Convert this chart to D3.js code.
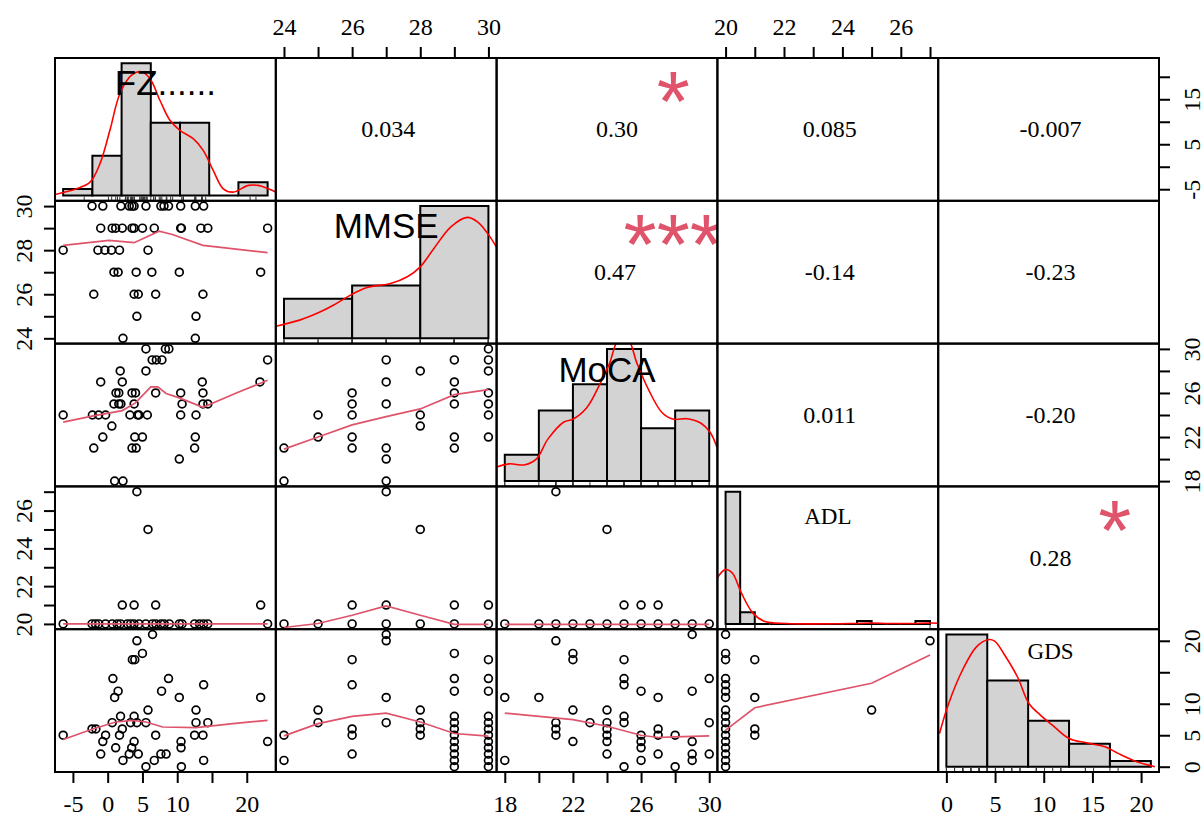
<!DOCTYPE html>
<html>
<head>
<meta charset="utf-8">
<script src="https://d3js.org/d3.v7.min.js"></script>
<style>
  body { margin: 0; background: #fff; }
  svg { display: block; }
</style>
</head>
<body>
<svg id="chart" width="1203" height="816"></svg>
<script>
// variable names and the labels on the diagonal
var vars = ["FZ", "MMSE", "MoCA", "ADL", "GDS"];
var diagLabels = ["FZ......", "MMSE", "MoCA", "ADL", "GDS"];

// axis ticks and their labels (R drops labels that would overlap)
var fzTicks = [-5, 0, 5, 10, 15, 20];
var fzBottomLabels = ["-5", "0", "5", "10", "", "20"];
var fzRightLabels = ["-5", "", "5", "", "15", ""];
var mmseTicks = [24, 25, 26, 27, 28, 29, 30];
var mmseLabels = ["24", "", "26", "", "28", "", "30"];
var mocaTicks = [18, 20, 22, 24, 26, 28, 30];
var mocaLabels = ["18", "", "22", "", "26", "", "30"];
var adlTicks = [20, 21, 22, 23, 24, 25, 26, 27];
var adlLabels = ["20", "", "22", "", "24", "", "26", ""];
var gdsTicks = [0, 5, 10, 15, 20];
var gdsBottomLabels = ["0", "5", "10", "15", "20"];
var gdsRightLabels = ["0", "5", "10", "", "20"];

// histograms: breaks and counts
var fzBreaks = [-10, -5, 0, 5, 10, 15, 20, 25];
var fzCounts = [1, 6, 20, 11, 11, 0, 2];
var mmseBreaks = [24, 26, 28, 30];
var mmseCounts = [9, 12, 30];
var mocaBreaks = [18, 20, 22, 24, 26, 28, 30];
var mocaCounts = [3, 8, 11, 15, 6, 8];
var adlBreaks = [20, 20.5, 21, 21.5, 22, 22.5, 23, 23.5, 24, 24.5, 25, 25.5, 26, 26.5, 27];
var adlCounts = [45, 4, 0, 0, 0, 0, 0, 0, 0, 1, 0, 0, 0, 1];
var gdsBreaks = [0, 5, 10, 15, 20, 25];
var gdsCounts = [23, 15, 8, 4, 1];

// kernel density curves [x, density]
var fz_dens = [[-11.4,0.0006],[-7.7,0.004],[-5.4,0.0079],[-3.7,0.0189],[-2.0,0.0387],[-0.28,0.0605],[1.7,0.0714],[3.4,0.0734],[4.85,0.0694],[6.56,0.0565],[8.27,0.0446],[9.98,0.0387],[12.26,0.0337],[13.97,0.0268],[15.68,0.0149],[17.4,0.004],[19.1,0.002],[21.7,0.006],[23.4,0.006],[25.1,0.004],[26.4,0.002]];
var mmse_dens = [[23.77,0.027],[24.48,0.041],[25.07,0.059],[25.46,0.074],[25.95,0.096],[26.44,0.113],[27.13,0.122],[27.62,0.137],[28.0,0.159],[28.4,0.2],[28.9,0.248],[29.38,0.269],[29.68,0.259],[29.97,0.234],[30.26,0.2]];
var moca_dens = [[17.5,0.0154],[18.25,0.0192],[19.19,0.0181],[19.86,0.0247],[20.53,0.0467],[21.47,0.0658],[22.0,0.0688],[22.81,0.0815],[23.61,0.109],[24.15,0.131],[24.69,0.158],[25.22,0.158],[25.76,0.131],[26.43,0.102],[27.24,0.076],[27.9,0.0688],[28.71,0.0694],[29.52,0.0644],[30.06,0.054],[30.46,0.0375]];
var adl_dens = [[19.71,0.613],[19.99,0.725],[20.23,0.68],[20.54,0.413],[20.93,0.147],[21.32,0.036],[22.1,0.005],[24.45,0.006],[25.0,0.012],[25.6,0.006],[26.4,0.006],[27.0,0.012],[27.3,0.008]];
var gds_dens = [[-0.84,0.0227],[0.28,0.0431],[1.96,0.0658],[3.65,0.0816],[5.05,0.0866],[5.9,0.0857],[7.02,0.0771],[8.7,0.0612],[10.1,0.0431],[11.5,0.0352],[13.2,0.0272],[15.0,0.0193],[17.1,0.0163],[19.4,0.0136],[21.0,0.0091],[23.3,0.0034],[25.5,0]];

// scatter points [x, y] of the lower panels
var fz_mmse = [[-2.25,30],[-0.7,30],[1.9,30],[3.1,30],[3.5,30],[3.8,30],[5.5,30],[7.65,30],[8.1,30],[8.75,30],[10.5,30],[12.6,30],[13.8,30],
  [-1.0,29],[0.65,29],[1.15,29],[2.1,29],[3.5,29],[3.8,29],[5.0,29],[6.7,29],[10.5,29],[10.6,29],[13.4,29],[14.4,29],[23.0,29],
  [-6.4,28],[-1.4,28],[-0.4,28],[0.55,28],[1.7,28],[5.8,28],
  [0.9,27],[1.5,27],[4.1,27],[6.35,27],[10.3,27],[22.0,27],
  [-2.0,26],[3.8,26],[4.4,26],[6.9,26],[13.7,26],
  [4.2,25],[12.7,25],[2.2,24],[12.6,24]];
var fz_moca = [[-6.4,24],[-2.2,24],[-1.3,24],[-0.3,24],[-1.0,27],[1.8,28],[2.1,27],[1.2,26],[1.6,26],[0.9,25],[1.6,25],[1.9,25],
  [0.6,23],[-0.7,22],[-2.0,21],[1.0,18],[2.2,18],[3.2,24],[4.3,24],[4.5,24],[5.7,24],[3.5,26],[4.0,26],[3.8,25],[3.9,22],
  [5.0,22],[3.5,21],[4.1,21],[5.5,30],[6.4,29],[7.0,29],[7.8,29],[8.3,30],[8.8,30],[5.5,28],[6.9,26],[10.5,26],[10.7,25],
  [10.5,24],[10.3,20],[12.7,24],[13.6,27],[13.7,26],[13.7,25],[14.4,25],[12.6,22],[12.5,21],[21.9,27],[23.0,29]];
var mmse_moca = [[24,21],[24,18],[25,24],[25,22],[26,26],[26,25],[26,24],[26,22],[26,21],[27,29],[27,27],[27,25],[27,21],
  [27,20],[27,18],[28,28],[28,24],[28,23],[29,29],[29,27],[29,26],[29,25],[29,22],[29,21],[30,30],[30,29],[30,28],[30,26],
  [30,25],[30,24],[30,22]];
var fz_adl = [[-6.4,20],[-2.25,20],[-1.76,20],[-1.28,20],[-0.31,20],[0.65,20],[1.37,20],[1.86,20],[2.82,20],[3.3,20],[3.79,20],
  [4.51,20],[5.48,20],[6.44,20],[6.93,20],[7.65,20],[8.13,20],[8.86,20],[10.3,20],[10.7,20],[12.5,20],[13.2,20],[13.8,20],
  [14.4,20],[23.0,20],[2.1,21],[3.8,21],[6.9,21],[22.0,21],[5.8,25],[4.2,27]];
var mmse_adl = [[24,20],[25,20],[26,20],[27,20],[28,20],[29,20],[30,20],[26,21],[27,21],[29,21],[30,21],[28,25],[27,27]];
var moca_adl = [[18,20],[20,20],[21,20],[22,20],[23,20],[24,20],[25,20],[26,20],[27,20],[28,20],[29,20],[30,20],
  [25,21],[26,21],[27,21],[24,25],[21,27]];
var fz_gds = [[-6.4,5],[-2.25,6],[-1.7,6],[-0.3,5],[-0.7,4],[-1.0,2],[1.15,3],[0.65,7],[1.7,5],[2.1,6],[1.85,8],[2.2,1],
  [3.1,2],[3.45,3],[3.8,4],[4.4,2],[3.3,7],[4.2,7],[5.5,7],[3.8,8],[5.8,9],[5.5,0],[6.7,1],[6.9,5],[7.65,2],[8.4,2],
  [0.75,14],[1.5,12],[1.0,11],[3.55,17],[3.9,17],[4.2,20],[5.0,18],[6.45,21],[7.75,12],[8.75,14],[10.3,11],[10.55,4],
  [10.55,3],[10.6,0],[12.7,9],[12.7,7],[14.4,7],[12.5,5],[13.7,5],[13.8,1],[13.8,13],[22.0,11],[23.0,4]];
var mmse_gds = [[24,5],[24,1],[25,9],[25,7],[26,17],[26,13],[26,6],[26,5],[26,2],[27,21],[27,20],[27,11],[27,7],
  [28,9],[28,7],[28,6],[28,5],[29,18],[29,14],[29,12],[29,8],[29,7],[29,6],[29,5],[29,4],[29,3],[29,2],[29,1],[29,0],
  [30,17],[30,14],[30,12],[30,8],[30,7],[30,6],[30,5],[30,4],[30,3],[30,2],[30,1],[30,0]];
var moca_gds = [[18,11],[18,1],[20,11],[21,20],[21,7],[21,6],[21,5],[22,18],[22,17],[22,9],[22,4],[23,7],[24,9],[24,7],
  [24,6],[24,5],[24,4],[24,2],[25,17],[25,14],[25,13],[25,8],[25,7],[25,0],[26,12],[26,5],[26,4],[26,3],[26,1],[27,11],
  [27,6],[27,5],[27,2],[28,5],[28,0],[29,21],[29,12],[29,4],[29,2],[29,1],[30,14],[30,7],[30,2]];
var adl_gds = [[20,21],[20,18],[20,17],[20,14],[20,13],[20,12],[20,11],[20,9],[20,8],[20,7],[20,6],[20,5],[20,4],[20,3],
  [20,2],[20,1],[20,0],[21,17],[21,11],[21,6],[21,5],[25,9],[27,20]];

// lowess smooths of the lower panels
var fz_mmse_fit = [[-6.4,28.22],[0.2,28.44],[3.8,28.34],[7.4,28.86],[9.3,28.71],[13.7,28.22],[23.0,27.89]];
var fz_moca_fit = [[-6.4,23.35],[-2.25,23.9],[2.1,24.4],[4.0,25.1],[6.2,26.55],[7.2,26.55],[8.4,25.95],[10.3,25.55],[13.7,24.7],[18.5,26.0],[23.0,27.15]];
var mmse_moca_fit = [[24,20.9],[25,22.0],[26,23.1],[27,23.85],[28,24.55],[29,25.85],[30,26.3]];
var fz_adl_fit = [[-6.4,20],[23.0,20]];
var mmse_adl_fit = [[24,19.81],[25,20.02],[26,20.46],[27,20.95],[28,20.46],[29,19.98],[30,19.98]];
var moca_adl_fit = [[18,19.98],[30,19.98]];
var fz_gds_fit = [[-6.4,4.33],[-2.25,5.95],[1.15,7.1],[3.55,7.37],[5.5,7.1],[7.9,6.31],[12.7,6.21],[18.0,6.85],[23.0,7.37]];
var mmse_gds_fit = [[24,4.9],[25,6.85],[26,8.0],[27,8.52],[28,7.1],[29,5.27],[30,4.85]];
var moca_gds_fit = [[18,8.52],[22,7.48],[24,6.42],[26,5.0],[27,4.64],[28,4.74],[30,4.9]];
var adl_gds_fit = [[20,5.8],[21,9.37],[25,13.26],[27,17.74]];

// upper panels, row by row: correlation and significance stars
var corLabels = ["0.034", "0.30", "0.085", "-0.007", "0.47", "-0.14", "-0.23", "0.011", "-0.20", "0.28"];
var corStars = ["", "*", "", "", "***", "", "", "", "", "*"];

//////////////////
// layout
//////////////////
var gridL = 55, gridT = 58, gridR = 1159, gridB = 772;
var n = vars.length,
    cw = (gridR - gridL) / n,
    ch = (gridB - gridT) / n;

var serif = "'Liberation Serif', 'Times New Roman', serif";
var sans = "'Liberation Sans', Arial, sans-serif";
var smoothCol = "#DF536B";

var lowerPanels = [
  {row: 1, col: 0, pts: fz_mmse, fit: fz_mmse_fit},
  {row: 2, col: 0, pts: fz_moca, fit: fz_moca_fit},
  {row: 2, col: 1, pts: mmse_moca, fit: mmse_moca_fit},
  {row: 3, col: 0, pts: fz_adl, fit: fz_adl_fit},
  {row: 3, col: 1, pts: mmse_adl, fit: mmse_adl_fit},
  {row: 3, col: 2, pts: moca_adl, fit: moca_adl_fit},
  {row: 4, col: 0, pts: fz_gds, fit: fz_gds_fit},
  {row: 4, col: 1, pts: mmse_gds, fit: mmse_gds_fit},
  {row: 4, col: 2, pts: moca_gds, fit: moca_gds_fit},
  {row: 4, col: 3, pts: adl_gds, fit: adl_gds_fit}
];

var hists = [
  {breaks: fzBreaks, counts: fzCounts, dens: fz_dens},
  {breaks: mmseBreaks, counts: mmseCounts, dens: mmse_dens},
  {breaks: mocaBreaks, counts: mocaCounts, dens: moca_dens},
  {breaks: adlBreaks, counts: adlCounts, dens: adl_dens},
  {breaks: gdsBreaks, counts: gdsCounts, dens: gds_dens}
];

var ticks = [fzTicks, mmseTicks, mocaTicks, adlTicks, gdsTicks];
var xTickLabels = [fzBottomLabels, mmseLabels, mocaLabels, adlLabels, gdsBottomLabels];
var yTickLabels = [fzRightLabels, mmseLabels, mocaLabels, adlLabels, gdsRightLabels];

// values of one variable, collected over every lower panel
function varValues(i) {
  var v = [];
  lowerPanels.forEach(function(p) {
    if (p.col == i) p.pts.forEach(function(d) { v.push(d[0]); });
    if (p.row == i) p.pts.forEach(function(d) { v.push(d[1]); });
  });
  return v;
}

// pairs() pads each range by 4%
var xScales = [], yScales = [];
vars.forEach(function(v, i) {
  var ext = d3.extent(varValues(i));
  var pad = (ext[1] - ext[0]) * 0.04;
  xScales.push(d3.scaleLinear().domain([ext[0] - pad, ext[1] + pad]).range([gridL + i * cw, gridL + (i + 1) * cw]));
  yScales.push(d3.scaleLinear().domain([ext[0] - pad, ext[1] + pad]).range([gridT + (i + 1) * ch, gridT + i * ch]));
});

var svg = d3.select("#chart");
var defs = svg.append("defs");

function panelGroup(r, c) {
  var id = "clip-" + r + "-" + c;
  defs.append("clipPath").attr("id", id)
    .append("rect")
    .attr("x", gridL + c * cw).attr("y", gridT + r * ch)
    .attr("width", cw).attr("height", ch);
  return svg.append("g").attr("clip-path", "url(#" + id + ")");
}

//////////////////
// diagonal: histograms
//////////////////
hists.forEach(function(h, i) {
  var g = panelGroup(i, i);
  var x0 = gridL + i * cw, y0 = gridT + i * ch;
  var N = d3.sum(h.counts);
  var dens = h.counts.map(function(c, k) { return c / (N * (h.breaks[k + 1] - h.breaks[k])); });
  var b0 = h.breaks[0], b1 = h.breaks[h.breaks.length - 1], pad = (b1 - b0) * 0.04;
  var maxD = d3.max(dens);
  var hx = d3.scaleLinear().domain([b0 - pad, b1 + pad]).range([x0, x0 + cw]);
  var hy = d3.scaleLinear().domain([-0.04 * maxD, 1.04 * maxD]).range([y0 + ch, y0]);

  g.selectAll("path.bar")
    .data(dens)
    .enter()
    .append("path")
    .attr("class", "bar")
    .attr("d", function(d, k) {
      var xa = hx(h.breaks[k]), xb = hx(h.breaks[k + 1]);
      return "M" + xa + "," + hy(0) + "H" + xb + "V" + hy(d) + "H" + xa + "Z";
    })
    .style("fill", "#D3D3D3")
    .style("stroke", "#000")
    .style("stroke-width", 2);

  g.append("path")
    .datum(h.dens)
    .attr("d", d3.line()
      .x(function(d) { return hx(d[0]); })
      .y(function(d) { return hy(d[1]); })
      .curve(d3.curveCatmullRom))
    .style("fill", "none")
    .style("stroke", "#FF0000")
    .style("stroke-width", 1.6);

  // rug: all observations, taken from the bottom row (or first column for GDS)
  var rugVals = [];
  lowerPanels.forEach(function(p) {
    if (i < n - 1 && p.row == n - 1 && p.col == i) rugVals = p.pts.map(function(d) { return d[0]; });
    if (i == n - 1 && p.row == n - 1 && p.col == 0) rugVals = p.pts.map(function(d) { return d[1]; });
  });
  g.selectAll("line.rug")
    .data(rugVals)
    .enter()
    .append("line")
    .attr("class", "rug")
    .attr("x1", function(d) { return hx(d); })
    .attr("x2", function(d) { return hx(d); })
    .attr("y1", y0 + ch)
    .attr("y2", y0 + ch - 0.03 * ch)
    .style("stroke", "#333")
    .style("stroke-width", 1);
});

// diagonal labels
var diagStyle = [
  {font: sans, size: 35, dy: 37},
  {font: sans, size: 35, dy: 37},
  {font: sans, size: 35, dy: 38},
  {font: serif, size: 23, dy: 38},
  {font: serif, size: 23, dy: 30}
];
diagLabels.forEach(function(lab, i) {
  svg.append("text")
    .attr("x", gridL + (i + 0.5) * cw + (i == 4 ? 2 : 0))
    .attr("y", gridT + i * ch + diagStyle[i].dy)
    .attr("text-anchor", "middle")
    .style("font-family", diagStyle[i].font)
    .style("font-size", diagStyle[i].size + "px")
    .style("fill", "#000")
    .text(lab);
});

//////////////////
// lower panels: points and smooth
//////////////////
lowerPanels.forEach(function(p) {
  var g = panelGroup(p.row, p.col);
  var sx = xScales[p.col], sy = yScales[p.row];

  g.selectAll("circle")
    .data(p.pts)
    .enter()
    .append("circle")
    .attr("cx", function(d) { return sx(d[0]); })
    .attr("cy", function(d) { return sy(d[1]); })
    .attr("r", 3.9)
    .style("fill", "none")
    .style("stroke", "#000")
    .style("stroke-width", 1.7);

  g.append("path")
    .datum(p.fit)
    .attr("d", d3.line()
      .x(function(d) { return sx(d[0]); })
      .y(function(d) { return sy(d[1]); }))
    .style("fill", "none")
    .style("stroke", smoothCol)
    .style("stroke-width", 1.7);
});

//////////////////
// upper panels: correlations
//////////////////
var upper = [];
for (var r = 0; r < n; r++) {
  for (var c = r + 1; c < n; c++) upper.push({row: r, col: c});
}
var corNudge = {"0-2": 10, "1-2": 8};
upper.forEach(function(p, k) {
  var g = panelGroup(p.row, p.col);
  var cx = gridL + (p.col + 0.5) * cw, cy = gridT + (p.row + 0.5) * ch;
  g.append("text")
    .attr("x", cx + (corNudge[p.row + "-" + p.col] || 2))
    .attr("y", cy + 8)
    .attr("text-anchor", "middle")
    .style("font-family", serif)
    .style("font-size", "24px")
    .style("fill", "#000")
    .text(corLabels[k]);
  if (corStars[k]) {
    g.append("text")
      .attr("x", gridL + (p.col + 0.8) * cw)
      .attr("y", gridT + (p.row + 0.2) * ch - 4 + 0.575 * 85)
      .attr("text-anchor", "middle")
      .style("font-family", sans)
      .style("font-size", "85px")
      .style("fill", smoothCol)
      .text(corStars[k]);
  }
});

//////////////////
// axes
//////////////////
function styleAxis(g) {
  g.select(".domain").remove();
  g.selectAll(".tick line").style("stroke", "#000").style("stroke-width", 2);
  g.selectAll(".tick text")
    .style("font-family", serif)
    .style("font-size", "24px")
    .style("fill", "#000");
}

vars.forEach(function(v, i) {
  // horizontal axes: bottom for odd panels, top for even ones (R counting)
  var labs = xTickLabels[i];
  var ax = (i % 2 == 0 ? d3.axisBottom(xScales[i]) : d3.axisTop(xScales[i]))
    .tickValues(ticks[i])
    .tickSize(11)
    .tickFormat(function(d, k) { return labs[k]; });
  var gx = svg.append("g")
    .attr("transform", "translate(0," + (i % 2 == 0 ? gridB : gridT) + ")")
    .call(ax);
  styleAxis(gx);
  gx.selectAll(".tick text")
    .attr("dy", null)
    .attr("y", i % 2 == 0 ? 40 : -23);

  // vertical axes: right for odd panels, left for even ones
  var ylabs = yTickLabels[i];
  var isRight = i % 2 == 0;
  var ay = (isRight ? d3.axisRight(yScales[i]) : d3.axisLeft(yScales[i]))
    .tickValues(ticks[i])
    .tickSize(11)
    .tickFormat(function(d, k) { return ylabs[k]; });
  var gy = svg.append("g")
    .attr("transform", "translate(" + (isRight ? gridR : gridL) + ",0)")
    .call(ay);
  styleAxis(gy);
  gy.selectAll(".tick text")
    .attr("dy", null)
    .attr("x", 0)
    .attr("y", isRight ? 41 : -23)
    .attr("transform", "rotate(-90)")
    .attr("text-anchor", "middle");
});

//////////////////
// panel boxes
//////////////////
for (var r2 = 0; r2 < n; r2++) {
  for (var c2 = 0; c2 < n; c2++) {
    svg.append("rect")
      .attr("x", gridL + c2 * cw)
      .attr("y", gridT + r2 * ch)
      .attr("width", cw)
      .attr("height", ch)
      .style("fill", "none")
      .style("stroke", "#000")
      .style("stroke-width", 2);
  }
}
</script>
</body>
</html>
